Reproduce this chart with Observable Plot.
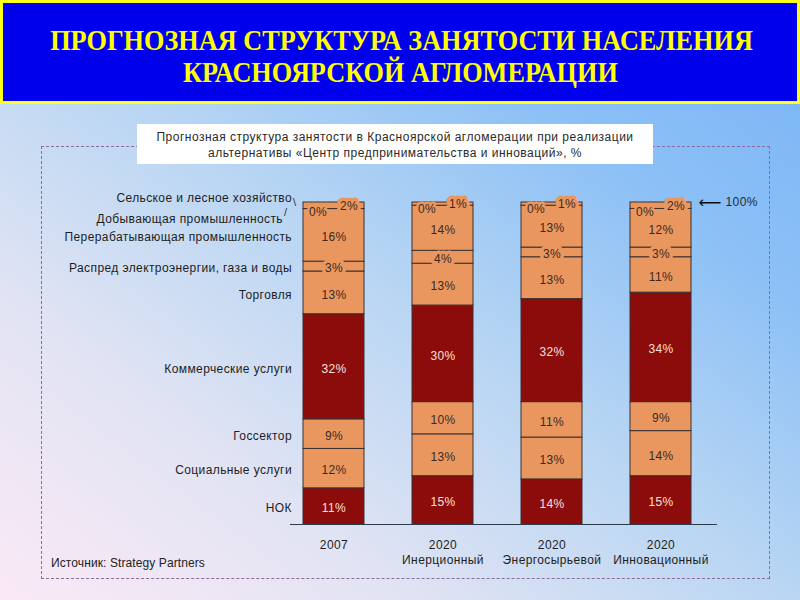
<!DOCTYPE html>
<html>
<head>
<meta charset="utf-8">
<script src="https://cdn.jsdelivr.net/npm/d3@7"></script>
<script src="https://cdn.jsdelivr.net/npm/@observablehq/plot@0.6"></script>
<style>
  html, body { margin: 0; padding: 0; }
  #page {
    position: relative; width: 800px; height: 600px; overflow: hidden;
    background: linear-gradient(to top right, #fbe9f6 0%, #e2e4f3 25%, #b9d6f3 50%, #8cc0f6 75%, #78b4f7 100%);
    font-family: "Liberation Sans", Arial, sans-serif;
  }
  #titlebox {
    position: absolute; left: 0; top: 0; width: 794px; height: 98px;
    background: #0000ec; border: 3px solid #ffff1e;
  }
  .tline {
    position: absolute; left: 0; width: 800px; text-align: center; white-space: nowrap;
    font-family: "Liberation Serif", "Times New Roman", serif; font-weight: bold;
    font-size: 30px; color: #ffff00; line-height: 1;
  }
  .tline span { display: inline-block; white-space: nowrap; transform: scaleX(0.875); transform-origin: center; }
  #subbox {
    position: absolute; left: 137px; top: 124px; width: 516px; height: 40px;
    background: #ffffff; text-align: center; font-size: 12px; color: #2a2a2a;
    line-height: 16px; letter-spacing: 0.5px; box-sizing: border-box; padding-top: 5px;
  }
  #frame {
    position: absolute; left: 41px; top: 146px; width: 727px; height: 431px;
    border: 1.5px dashed #8d6b9a;
  }
  #source {
    position: absolute; left: 51px; top: 556px; font-size: 12px; color: #222;
    letter-spacing: 0.1px;
  }
  #chart { position: absolute; left: 0; top: 0; }
  #chart svg text { letter-spacing: 0.4px; }
</style>
</head>
<body>
<div id="page">
  <div id="titlebox"></div>
  <div class="tline" style="top:25px"><span>ПРОГНОЗНАЯ СТРУКТУРА ЗАНЯТОСТИ НАСЕЛЕНИЯ</span></div>
  <div class="tline" style="top:57px"><span>КРАСНОЯРСКОЙ АГЛОМЕРАЦИИ</span></div>
  <div id="frame"></div>
  <div id="subbox">Прогнозная структура занятости в Красноярской агломерации при реализации<br>альтернативы «Центр предпринимательства и инноваций», %</div>
  <div id="source">Источник: Strategy Partners</div>
  <div id="chart"></div>
</div>
<script>
// ---- data ----
const categories = [
  "НОК",
  "Социальные услуги",
  "Госсектор",
  "Коммерческие услуги",
  "Торговля",
  "Распред электроэнергии, газа и воды",
  "Перерабатывающая промышленность",
  "Добывающая промышленность",
  "Сельское и лесное хозяйство"
];
const scenarios = ["2007", "2020\nИнерционный", "2020\nЭнергосырьевой", "2020\nИнновационный"];
const values2007 = [11, 12, 9, 32, 13, 3, 16, 0, 2];
const valuesInert = [15, 13, 10, 30, 13, 4, 14, 0, 1];
const valuesEnergy = [14, 13, 11, 32, 13, 3, 13, 0, 1];
const valuesInnov = [15, 14, 9, 34, 11, 3, 12, 0, 2];
const darkCategories = ["НОК", "Коммерческие услуги"];
const topLabel = "100%";

const seriesValues = [values2007, valuesInert, valuesEnergy, valuesInnov];
const rows = [];
categories.forEach((c, i) => {
  scenarios.forEach((s, j) => {
    rows.push({
      category: c, scenario: s, value: seriesValues[j][i],
      kind: darkCategories.includes(c) ? "dark" : "light"
    });
  });
});
const rows2007 = rows.filter(d => d.scenario === scenarios[0]);

const MINING = categories[7], AGRI = categories[8];
const stackOpts = (extra) => Plot.stackY({offset: "normalize", x: "scenario", y: "value", z: "category", ...extra});

const ORANGE = "#ea975f", DARK = "#8c0b0b";

const chart = Plot.plot({
  width: 800, height: 600,
  marginLeft: 290, marginRight: 83, marginTop: 202, marginBottom: 76,
  style: {background: "transparent", fontFamily: "'Liberation Sans', Arial, sans-serif", fontSize: "12px", overflow: "visible"},
  x: {domain: scenarios, paddingInner: 0.442, paddingOuter: 0.174, align: 0.34, axis: null},
  y: {domain: [0, 1], axis: null},
  color: {domain: ["dark", "light"], range: [DARK, ORANGE]},
  marks: [
    Plot.barY(rows, stackOpts({fill: "kind", stroke: "#3b3030", strokeWidth: 1})),
    Plot.ruleY([0], {stroke: "#2c3a4c", strokeWidth: 1.2}),
    // labels on dark segments
    Plot.text(rows, stackOpts({
      text: d => d.kind === "dark" ? d.value + "%" : null,
      fill: "#f8e2dc", fontSize: 12, dy: 2
    })),
    // labels on light segments (halo covers the thin boundary lines)
    Plot.text(rows, stackOpts({
      text: d => d.kind === "light" && d.category !== MINING && d.category !== AGRI ? d.value + "%" : null,
      fill: "#3a2a22", stroke: ORANGE, strokeWidth: 7, fontSize: 12, dy: 2
    })),
    // top small labels
    Plot.text(rows, stackOpts({
      text: d => d.category === MINING ? d.value + "%" : null,
      fill: "#3a2a22", stroke: ORANGE, strokeWidth: 5, fontSize: 12, dx: -16, dy: 3
    })),
    Plot.text(rows, stackOpts({
      text: d => d.category === AGRI ? d.value + "%" : null,
      fill: "#3a2a22", stroke: ORANGE, strokeWidth: 7, fontSize: 12, dx: 15, dy: 0
    })),
    // left category labels from 2007 bar
    Plot.text(rows2007, stackOpts({
      text: d => d.category !== MINING && d.category !== AGRI ? d.category : null,
      textAnchor: "end", dx: -42, dy: 2, fill: "#1e1e1e", fontSize: 12
    })),
    Plot.text(rows2007, stackOpts({
      text: d => d.category === AGRI ? d.category : null,
      textAnchor: "end", dx: -42, dy: -8, fill: "#1e1e1e", fontSize: 12
    })),
    Plot.text(rows2007, stackOpts({
      text: d => d.category === AGRI ? "\\" : null,
      textAnchor: "start", dx: -41, dy: -3, fill: "#333", fontSize: 11
    })),
    Plot.text(rows2007, stackOpts({
      text: d => d.category === MINING ? d.category : null,
      textAnchor: "end", dx: -51, dy: 10, fill: "#1e1e1e", fontSize: 12
    })),
    Plot.text(rows2007, stackOpts({
      text: d => d.category === MINING ? "/" : null,
      textAnchor: "start", dx: -50, dy: 3, fill: "#333", fontSize: 11
    })),
    // 100% marker
    Plot.text([1], {y: d => d, text: () => "⟵", frameAnchor: "right", textAnchor: "start",
      dx: -19, fontFamily: "DejaVu Sans", fontSize: 16, fill: "#111"}),
    Plot.text([1], {y: d => d, text: () => topLabel, frameAnchor: "right", textAnchor: "start",
      dx: 8, fontSize: 12, fill: "#1e2a3a"}),
    // x labels
    Plot.text(scenarios, {x: d => d, text: d => d, frameAnchor: "bottom", lineAnchor: "top",
      dy: 13, lineHeight: 1.3, fontSize: 12, fill: "#1e1e1e"})
  ]
});
document.getElementById("chart").appendChild(chart);
</script>
</body>
</html>
